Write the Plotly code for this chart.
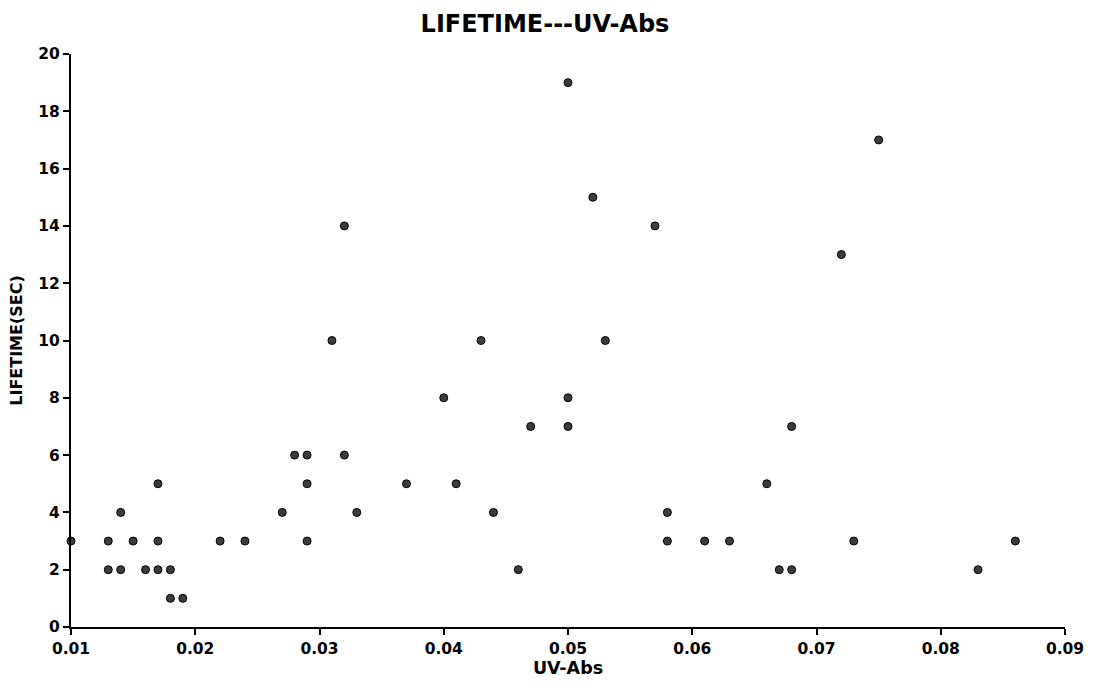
import plotly.graph_objects as go

# UV absorbance readings and measured lifetimes (seconds)
uv_abs = [0.010, 0.013, 0.013, 0.014, 0.014, 0.015, 0.016, 0.017, 0.017, 0.017,
          0.018, 0.018, 0.019, 0.022, 0.024, 0.027, 0.028, 0.029, 0.029, 0.029,
          0.031, 0.032, 0.032, 0.033, 0.037, 0.040, 0.041, 0.043, 0.044, 0.046,
          0.047, 0.050, 0.050, 0.050, 0.052, 0.053, 0.057, 0.058, 0.058, 0.061,
          0.063, 0.066, 0.067, 0.068, 0.068, 0.072, 0.073, 0.075, 0.083, 0.086]
lifetime = [3, 3, 2, 4, 2, 3, 2, 5, 3, 2,
            2, 1, 1, 3, 3, 4, 6, 6, 5, 3,
            10, 14, 6, 4, 5, 8, 5, 10, 4, 2,
            7, 19, 8, 7, 15, 10, 14, 4, 3, 3,
            3, 5, 2, 7, 2, 13, 3, 17, 2, 3]

x_ticks = [0.01, 0.02, 0.03, 0.04, 0.05, 0.06, 0.07, 0.08, 0.09]
x_tick_text = ["0.01", "0.02", "0.03", "0.04", "0.05", "0.06", "0.07", "0.08", "0.09"]
y_ticks = [0, 2, 4, 6, 8, 10, 12, 14, 16, 18, 20]

FONT = "DejaVu Sans, Verdana, sans-serif"

fig = go.Figure(
    go.Scatter(
        x=uv_abs,
        y=lifetime,
        mode="markers",
        marker=dict(size=8, color="#3c3c3c", line=dict(color="#000000", width=1)),
        cliponaxis=False,
        showlegend=False,
    )
)

axis_common = dict(
    showgrid=False,
    zeroline=False,
    showline=True,
    linecolor="#000000",
    linewidth=2,
    ticks="outside",
    ticklen=6,
    tickwidth=1.5,
    tickcolor="#000000",
    tickfont=dict(family=FONT, size=15.5, color="#000000", weight="bold"),
)

fig.update_xaxes(
    range=[0.01, 0.09],
    tickvals=x_ticks,
    ticktext=x_tick_text,
    title=dict(text="UV-Abs", font=dict(family=FONT, size=17.5, color="#000000", weight="bold"), standoff=2),
    **axis_common,
)
fig.update_yaxes(
    range=[0, 20],
    tickvals=y_ticks,
    title=dict(text="LIFETIME(SEC)", font=dict(family=FONT, size=16, color="#000000", weight="bold"), standoff=12),
    **axis_common,
)

fig.update_layout(
    width=1101,
    height=684,
    margin=dict(l=71, r=36, t=54, b=55),
    paper_bgcolor="#ffffff",
    plot_bgcolor="#ffffff",
    title=dict(
        text="LIFETIME---UV-Abs",
        x=0.495,
        xanchor="center",
        y=0.966,
        yanchor="middle",
        font=dict(family=FONT, size=24, color="#000000", weight="bold"),
    ),
)

fig.write_html("out.html")
